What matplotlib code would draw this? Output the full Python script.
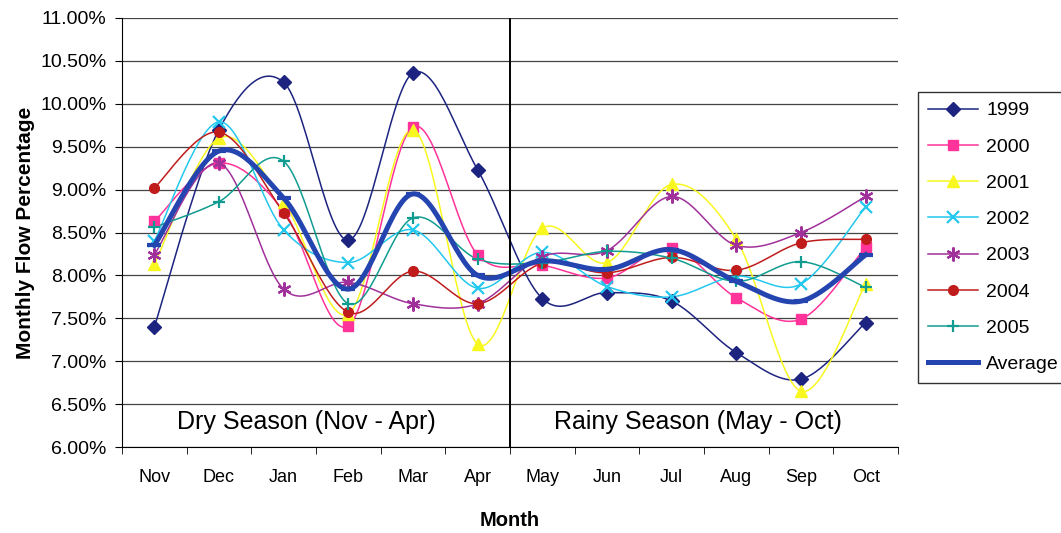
import numpy as np
import matplotlib
matplotlib.use("Agg")
import matplotlib.pyplot as plt

plt.rcParams['font.family'] = ['Liberation Sans', 'DejaVu Sans']

# monthly flow percentage by hydrological year (Nov - Oct)
months = ["Nov", "Dec", "Jan", "Feb", "Mar", "Apr",
          "May", "Jun", "Jul", "Aug", "Sep", "Oct"]

y1999 = [7.40, 9.70, 10.25, 8.41, 10.36, 9.23, 7.73, 7.80, 7.70, 7.10, 6.79, 7.45]
y2000 = [8.63, 9.31, 8.75, 7.41, 9.73, 8.24, 8.12, 7.97, 8.32, 7.74, 7.49, 8.33]
y2001 = [8.13, 9.60, 8.86, 7.55, 9.70, 7.20, 8.55, 8.15, 9.06, 8.42, 6.65, 7.90]
y2002 = [8.40, 9.79, 8.53, 8.15, 8.53, 7.85, 8.27, 7.87, 7.75, 7.99, 7.90, 8.80]
y2003 = [8.24, 9.31, 7.84, 7.92, 7.67, 7.67, 8.22, 8.29, 8.92, 8.35, 8.50, 8.92]
y2004 = [9.02, 9.67, 8.73, 7.57, 8.05, 7.67, 8.14, 8.03, 8.21, 8.06, 8.38, 8.42]
y2005 = [8.56, 8.86, 9.33, 7.67, 8.67, 8.19, 8.15, 8.28, 8.20, 7.93, 8.16, 7.86]
average = [8.35, 9.45, 8.90, 7.84, 8.95, 8.00, 8.17, 8.07, 8.30, 7.93, 7.70, 8.24]

# asterisk marker: vertical bar plus two diagonals
star = (6, 2, 0)

series = [
    ("1999", y1999, "#1c2480", "D", 7, 1.1),
    ("2000", y2000, "#ff3399", "s", 7, 1.1),
    ("2001", y2001, "#f8f820", "^", 8, 1.1),
    ("2002", y2002, "#22c8ee", "x", 8, 1.1),
    ("2003", y2003, "#a0309a", star, 10, 1.1),
    ("2004", y2004, "#c01c1c", "o", 7, 1.1),
    ("2005", y2005, "#109c90", "+", 9, 1.1),
]


def smooth(xs, ys, n=30):
    # bezier curve through the points, like a spreadsheet "smoothed line"
    xs = np.asarray(xs, float)
    ys = np.asarray(ys, float)
    px = np.concatenate([[xs[0]], xs, [xs[-1]]])
    py = np.concatenate([[ys[0]], ys, [ys[-1]]])
    t = np.linspace(0, 1, n)[:, None]
    outx, outy = [], []
    for i in range(1, len(px) - 2):
        p0 = np.array([px[i], py[i]])
        p3 = np.array([px[i + 1], py[i + 1]])
        c1 = p0 + (np.array([px[i + 1], py[i + 1]]) - np.array([px[i - 1], py[i - 1]])) / 6
        c2 = p3 - (np.array([px[i + 2], py[i + 2]]) - np.array([px[i], py[i]])) / 6
        pts = ((1 - t) ** 3) * p0 + 3 * ((1 - t) ** 2) * t * c1 + 3 * (1 - t) * t ** 2 * c2 + t ** 3 * p3
        outx.extend(pts[:, 0])
        outy.extend(pts[:, 1])
    return outx, outy


def mew(mk):
    return 1.6 if mk in ("x", "+", star) else 1


fig = plt.figure(figsize=(10.61, 5.33), dpi=100)
ax = fig.add_axes([122 / 1061, 1 - 447 / 533, 776 / 1061, 429 / 533])

x = np.arange(len(months))
handles = []
for name, vals, col, mk, ms, lw in series:
    sx, sy = smooth(x, vals)
    ax.plot(sx, sy, color=col, linewidth=lw, zorder=3)
    ax.plot(x, vals, linestyle="none", marker=mk, markersize=ms, color=col,
            markeredgewidth=mew(mk), zorder=4)
    h, = ax.plot([], [], color=col, linewidth=lw, marker=mk, markersize=ms,
                 markeredgewidth=mew(mk), label=name)
    handles.append(h)

sx, sy = smooth(x, average)
ax.plot(sx, sy, color="#2444b0", linewidth=3.6, zorder=5)
ax.plot(x, average, linestyle="none", marker="_", markersize=10,
        markeredgewidth=3, color="#2444b0", zorder=5)
h, = ax.plot([], [], color="#2444b0", linewidth=3.6, label="Average")
handles.append(h)

# season divider
ax.axvline(5.5, color="black", linewidth=1.4, zorder=6)
ax.text(2.35, 6.29, "Dry Season (Nov - Apr)", fontsize=18, ha="center", va="center")
ax.text(8.4, 6.29, "Rainy Season (May - Oct)", fontsize=18, ha="center", va="center")

ax.set_xlim(-0.5, 11.5)
ax.set_ylim(6.0, 11.0)
ax.set_yticks(np.arange(6.0, 11.01, 0.5))
ax.set_yticklabels([f"{v:.2f}%" for v in np.arange(6.0, 11.01, 0.5)], fontsize=14)
ax.yaxis.grid(True, color="#444444", linewidth=0.9)
ax.set_axisbelow(True)
ax.set_xticks(x)
ax.set_xticklabels(months, fontsize=13)
ax.set_xticks(np.arange(-0.5, 11.6, 1), minor=True)
ax.tick_params(axis="x", which="major", length=0, pad=16)
ax.tick_params(axis="x", which="minor", length=5, direction="out")
ax.tick_params(axis="y", length=5, direction="out", pad=6)
for s in ["top", "right"]:
    ax.spines[s].set_visible(False)

ax.set_xlabel("Month", fontsize=14.5, fontweight="bold", labelpad=18)
ax.set_ylabel("Monthly Flow Percentage", fontsize=15, fontweight="bold", labelpad=4)

leg = fig.legend(handles=handles, loc="upper left",
                 bbox_to_anchor=(918 / 1061, 1 - 92 / 533),
                 fontsize=14, frameon=True, fancybox=False, edgecolor="black",
                 labelspacing=0.96, handlelength=2.6, handletextpad=0.4,
                 borderpad=0.5, borderaxespad=0)
leg.get_frame().set_linewidth(1.0)

fig.savefig("out.png", dpi=100)
